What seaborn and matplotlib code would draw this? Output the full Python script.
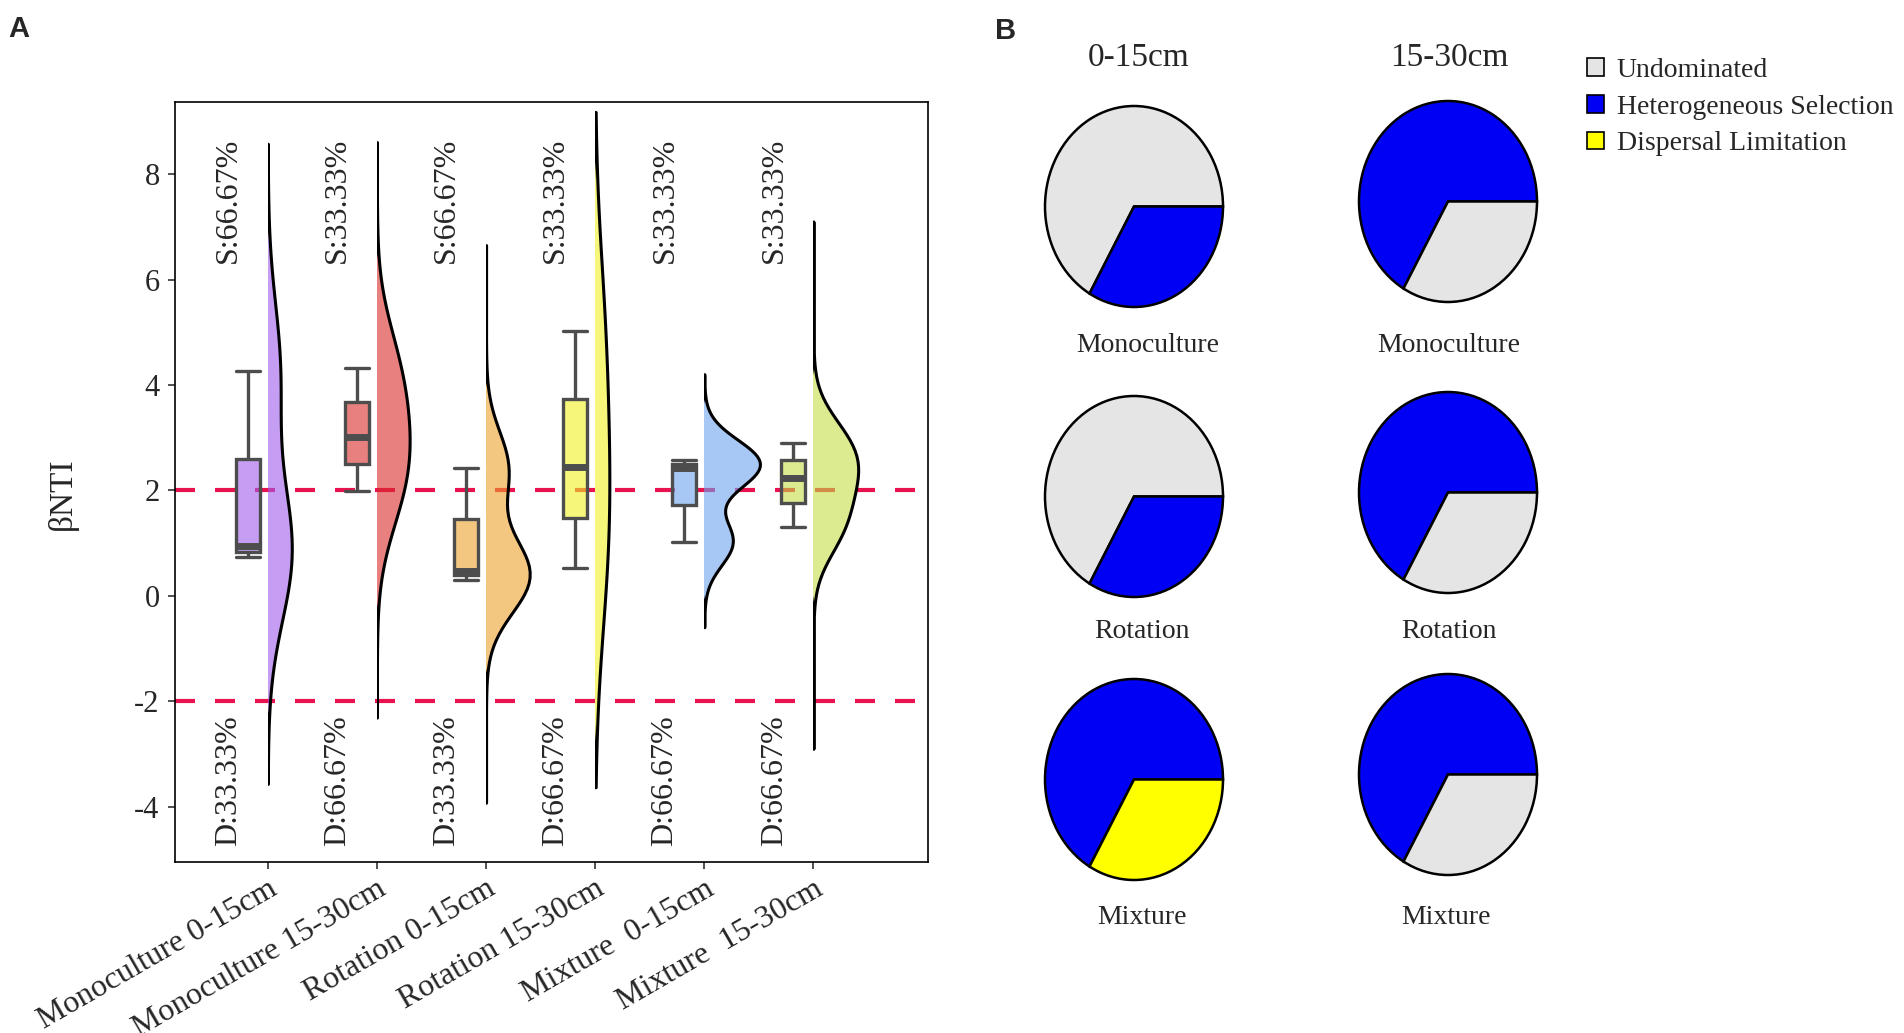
import numpy as np
import pandas as pd
import matplotlib
matplotlib.use("Agg")
import matplotlib.pyplot as plt
import matplotlib.transforms as mtransforms
from matplotlib.colors import to_rgba
from matplotlib.patches import Patch, Rectangle
import seaborn as sns

# ---- panel A: three beta-NTI values per group ----
groups = ["Monoculture 0-15cm", "Monoculture 15-30cm", "Rotation 0-15cm",
          "Rotation 15-30cm", "Mixture  0-15cm", "Mixture  15-30cm"]
mono_0_15 = [0.74, 0.94, 4.27]
mono_15_30 = [1.98, 3.02, 4.32]
rot_0_15 = [0.31, 0.48, 2.42]
rot_15_30 = [0.53, 2.44, 5.02]
mix_0_15 = [1.03, 2.42, 2.58]
mix_15_30 = [1.30, 2.24, 2.90]
group_values = [mono_0_15, mono_15_30, rot_0_15, rot_15_30, mix_0_15, mix_15_30]
s_labels = ["S:66.67%", "S:33.33%", "S:66.67%", "S:33.33%", "S:33.33%", "S:33.33%"]
d_labels = ["D:33.33%", "D:66.67%", "D:33.33%", "D:66.67%", "D:66.67%", "D:66.67%"]
thresholds = [2, -2]

# ---- panel B: community assembly shares per pie ----
pie_depths = ["0-15cm", "15-30cm"]
pie_treatments = ["Monoculture", "Rotation", "Mixture"]
pie_mono_0_15 = {"Undominated": 66.67, "Heterogeneous Selection": 33.33}
pie_rot_0_15 = {"Undominated": 66.67, "Heterogeneous Selection": 33.33}
pie_mix_0_15 = {"Heterogeneous Selection": 66.67, "Dispersal Limitation": 33.33}
pie_mono_15_30 = {"Heterogeneous Selection": 66.67, "Undominated": 33.33}
pie_rot_15_30 = {"Heterogeneous Selection": 66.67, "Undominated": 33.33}
pie_mix_15_30 = {"Heterogeneous Selection": 66.67, "Undominated": 33.33}
pies = [[pie_mono_0_15, pie_rot_0_15, pie_mix_0_15],
        [pie_mono_15_30, pie_rot_15_30, pie_mix_15_30]]
processes = ["Undominated", "Heterogeneous Selection", "Dispersal Limitation"]

# ---- styles ----
colors = ["#9F5CEB", "#DA2B2B", "#EEA32B", "#F1F121", "#6CA3EE", "#C5DF44"]
pie_colors = {"Undominated": "#E5E5E5", "Heterogeneous Selection": "#0000F5",
              "Dispersal Limitation": "#FFFF00"}
violin_widths = [0.44, 0.60, 0.80, 0.26, 1.02, 0.82]
violin_bw = [0.82, 1.06, 0.75, 1.0, 0.66, 0.93]
violin_cut = [3.3, 4.3, 6.0, 2.3, 3.6, 7.0]

df = pd.DataFrame({"group": np.repeat(groups, [len(v) for v in group_values]),
                   "value": np.concatenate(group_values)})

sns.set_theme(style="ticks")
plt.rcParams["font.family"] = ["Liberation Serif", "DejaVu Serif"]
plt.rcParams["axes.unicode_minus"] = False

W, H = 1904, 1033
fig = plt.figure(figsize=(W / 100, H / 100), dpi=100)
ax = fig.add_axes([175 / W, 1 - 862 / H, (928 - 175) / W, (862 - 102) / H])

# half violins: draw with seaborn, keep the right half only
for i, g in enumerate(groups):
    start = len(ax.collections)
    sns.violinplot(data=df[df["group"] == g], x="group", y="value", order=groups,
                   color=colors[i], saturation=1, inner=None, width=violin_widths[i],
                   bw_adjust=violin_bw[i], cut=violin_cut[i], density_norm="width",
                   linewidth=2.2, linecolor="black", ax=ax)
    for coll in ax.collections[start:]:
        coll.set_facecolor(to_rgba(colors[i], 0.6))
        coll.set_clip_path(Rectangle((i, -50), 1, 100, transform=ax.transData))

# boxes, shifted to the left of each violin
n_p, n_l = len(ax.patches), len(ax.lines)
sns.boxplot(data=df, x="group", y="value", hue="group", order=groups, hue_order=groups,
            palette=colors, saturation=1, width=0.22, dodge=False, linecolor="#4D4D4D",
            linewidth=2.4, medianprops=dict(linewidth=5), capwidths=0.22,
            legend=False, ax=ax)
shift = mtransforms.Affine2D().translate(-0.185, 0) + ax.transData
for art in list(ax.patches[n_p:]) + list(ax.lines[n_l:]):
    art.set_transform(shift)
for p in list(ax.patches[n_p:]):
    fc = p.get_facecolor()
    p.set_facecolor((fc[0], fc[1], fc[2], 0.6))

for t in thresholds:
    ax.axhline(t, color="#E8124F", lw=3, ls=(0, (4.8, 4.8)), zorder=0.5)

for i in range(len(groups)):
    ax.text(i - 0.36, 7.5, s_labels[i], rotation=90, ha="center", va="center", fontsize=23)
    ax.text(i - 0.36, -3.5, d_labels[i], rotation=90, ha="center", va="center", fontsize=23)

ax.set_xlim(-0.85, 6.05)
ax.set_ylim(-5.05, 9.37)
ax.set_yticks([-4, -2, 0, 2, 4, 6, 8])
ax.set_xlabel("")
ax.set_ylabel("βNTI", fontsize=24)
ax.yaxis.set_label_coords(-0.129, 0.485)
ax.tick_params(axis="y", labelsize=22, length=5, width=1.2, color="#333333", pad=6)
ax.tick_params(axis="x", labelsize=23, length=5, width=1.2, color="#333333", pad=4)
plt.setp(ax.get_xticklabels(), rotation=30, ha="right", rotation_mode="anchor")
for sp in ax.spines.values():
    sp.set_color("black")
    sp.set_linewidth(1.2)

# ---- panel B ----
col_left = [1045, 1359]
col_tops = [[106, 396, 679], [101, 392, 674]]
pie_w, pie_h = 178, 201
for c in range(2):
    for r in range(3):
        shares = pies[c][r]
        pax = fig.add_axes([col_left[c] / W, 1 - (col_tops[c][r] + pie_h) / H,
                            pie_w / W, pie_h / H])
        pax.pie(list(shares.values()), colors=[pie_colors[k] for k in shares],
                startangle=0, counterclock=True, radius=1,
                wedgeprops=dict(edgecolor="black", linewidth=1.8, clip_on=False))
        pax.set_aspect("auto")
        pax.set_xlim(-1, 1)
        pax.set_ylim(-1, 1)
        pax.axis("off")

title_x = [1139, 1449]
label_x = [[1148, 1142, 1142], [1449, 1449, 1446]]
label_base = [352, 638, 924]
for c in range(2):
    fig.text(title_x[c] / W, 1 - 66 / H, pie_depths[c], ha="center", va="baseline", fontsize=24)
    for r in range(3):
        fig.text(label_x[c][r] / W, 1 - label_base[r] / H, pie_treatments[r],
                 ha="center", va="baseline", fontsize=20)

handles = [Patch(facecolor=pie_colors[k], edgecolor="black", linewidth=1.2) for k in processes]
fig.legend(handles, processes, loc="upper left", bbox_to_anchor=(1587 / W, 1 - 58 / H),
           fontsize=20, frameon=False, handlelength=0.62, handleheight=0.6,
           handletextpad=0.45, labelspacing=0.42, borderpad=0, borderaxespad=0)

fig.text(8 / W, 1 - 15 / H, "A", fontsize=21, fontweight="bold", family="Liberation Sans", va="top")
fig.text(995 / W, 1 - 17 / H, "B", fontsize=21, fontweight="bold", family="Liberation Sans", va="top")

fig.savefig("out.png", dpi=100)
